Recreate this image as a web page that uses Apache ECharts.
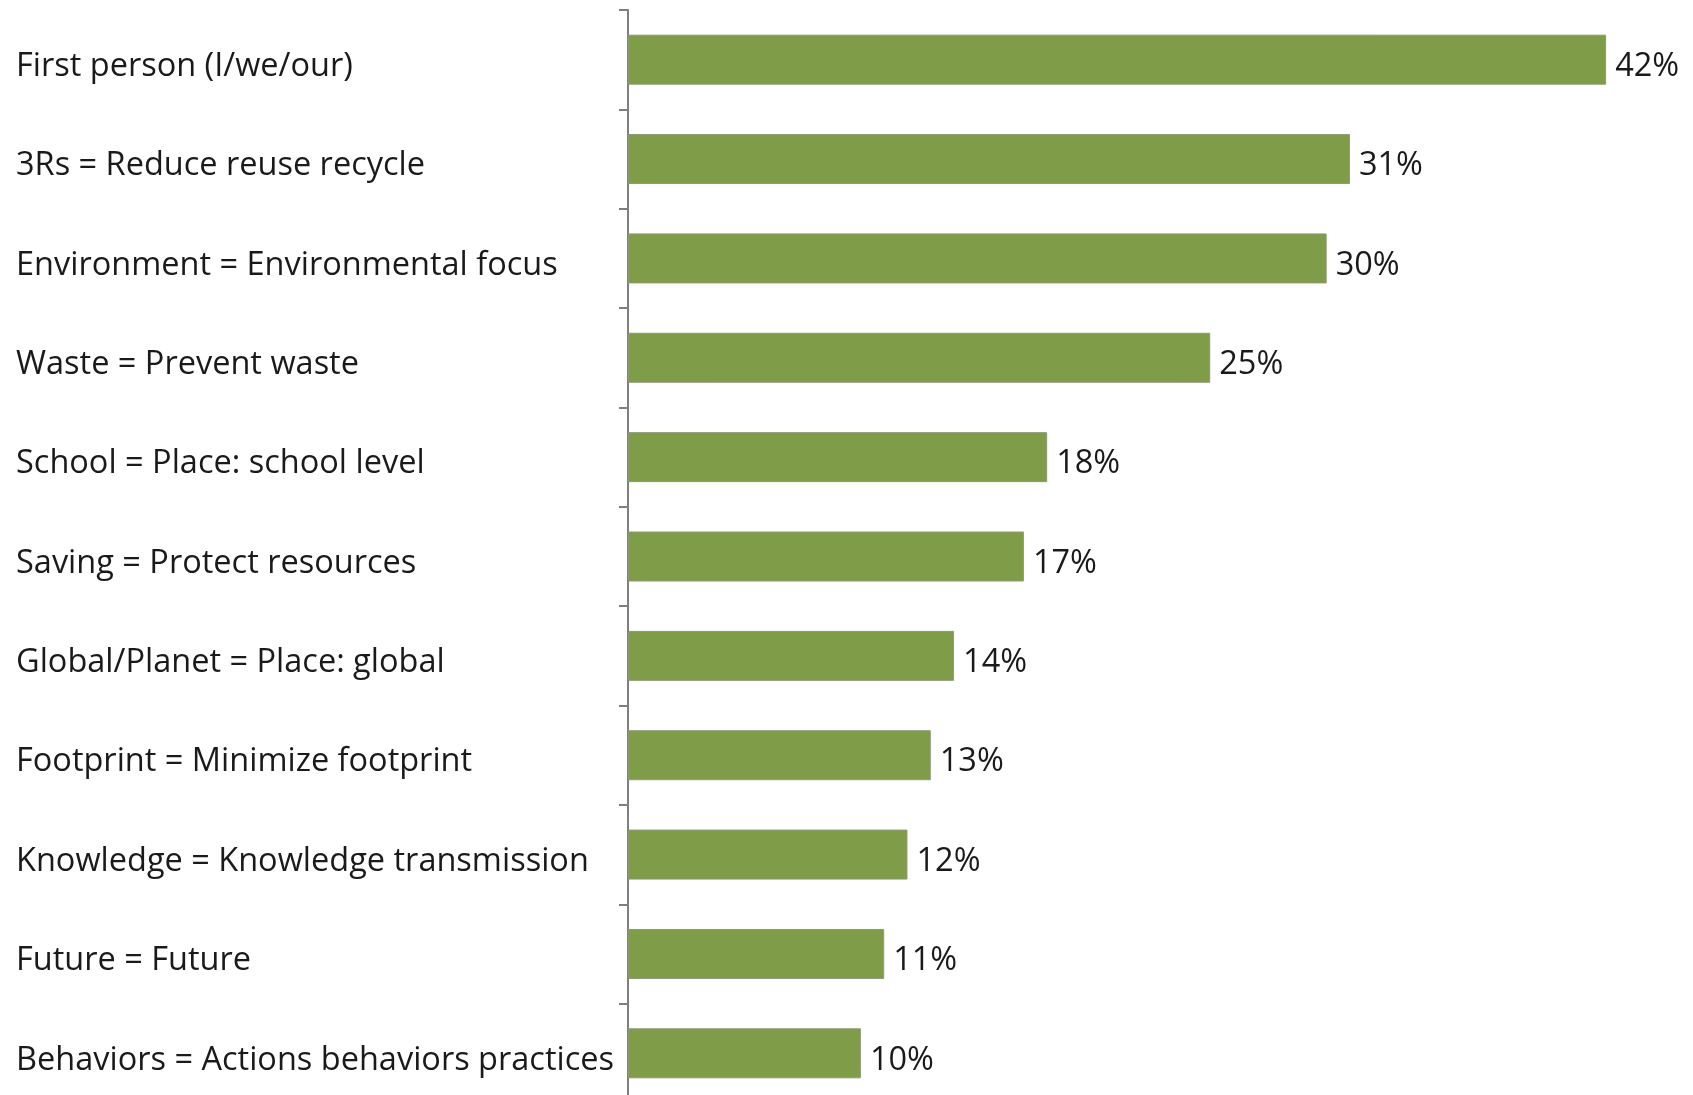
<!DOCTYPE html>
<html>
<head>
<meta charset="utf-8">
<script src="https://cdn.jsdelivr.net/npm/echarts@6/dist/echarts.min.js"></script>
<style>
  html, body { margin: 0; padding: 0; background: #ffffff; overflow: hidden; }
  /* the category axis runs slightly past the bottom of the window */
  #chart { width: 1693px; height: 1115px; }
</style>
</head>
<body>
<div id="chart"></div>
<script>
// Theme categories, listed top to bottom
const categories = [
  'First person (I/we/our)',
  '3Rs = Reduce reuse recycle',
  'Environment = Environmental focus',
  'Waste = Prevent waste',
  'School = Place: school level',
  'Saving = Protect resources',
  'Global/Planet = Place: global',
  'Footprint = Minimize footprint',
  'Knowledge = Knowledge transmission',
  'Future = Future',
  'Behaviors = Actions behaviors practices'
];

// Share of responses mentioning each theme (%)
const shares = [42, 31, 30, 25, 18, 17, 14, 13, 12, 11, 10];

const FONT = '"Open Sans", Lato, sans-serif';

const chart = echarts.init(document.getElementById('chart'), null, { renderer: 'canvas' });

chart.setOption({
  backgroundColor: '#ffffff',
  animation: false,
  grid: { left: 628, top: 10, width: 1048, height: 1093, containLabel: false },
  xAxis: {
    type: 'value',
    min: 0,
    max: 45,
    show: false
  },
  yAxis: {
    type: 'category',
    data: categories,
    inverse: true,
    axisLine: { show: true, lineStyle: { color: '#7f7f7f', width: 2 } },
    axisTick: { show: true, length: 9, lineStyle: { color: '#7f7f7f', width: 2 } },
    axisLabel: {
      align: 'left',
      verticalAlign: 'top',
      lineHeight: 14,
      margin: 612,
      color: '#1a1a1a',
      fontFamily: FONT,
      fontSize: 32.5
    }
  },
  series: [{
    type: 'bar',
    data: shares,
    barWidth: 50,
    itemStyle: { color: '#7f9c48', borderColor: '#8d9a78', borderWidth: 1 },
    label: {
      show: true,
      position: 'right',
      distance: 9,
      offset: [0, 7],
      formatter: p => p.value + '%',
      color: '#1a1a1a',
      fontFamily: FONT,
      fontSize: 32.5
    }
  }]
});
</script>
</body>
</html>
